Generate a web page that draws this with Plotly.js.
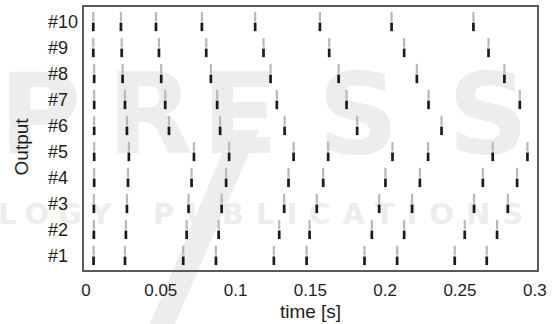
<!DOCTYPE html>
<html>
<head>
<meta charset="utf-8">
<script src="https://cdn.plot.ly/plotly-3.0.1.min.js"></script>
<style>html,body{margin:0;padding:0;background:#fff;}#chart{width:555px;height:324px;}</style>
</head>
<body>
<div id="chart"></div>
<script>
// Spike times (s) for each output
const out1 = [0.0051, 0.0261, 0.0650, 0.0869, 0.1256, 0.1475, 0.1862, 0.2080, 0.2465, 0.2679];
const out2 = [0.0053, 0.0267, 0.0673, 0.0887, 0.1292, 0.1495, 0.1911, 0.2127, 0.2532, 0.2748];
const out3 = [0.0053, 0.0274, 0.0686, 0.0907, 0.1325, 0.1543, 0.1960, 0.2180, 0.2594, 0.2820];
const out4 = [0.0055, 0.0281, 0.0706, 0.0937, 0.1354, 0.1586, 0.2002, 0.2232, 0.2653, 0.2882];
const out5 = [0.0055, 0.0287, 0.0722, 0.0957, 0.1388, 0.1619, 0.2049, 0.2287, 0.2719, 0.2951];
const out6 = [0.0055, 0.0274, 0.0555, 0.0897, 0.1328, 0.1813, 0.2377];
const out7 = [0.0055, 0.0261, 0.0530, 0.0877, 0.1276, 0.1742, 0.2290, 0.2900];
const out8 = [0.0055, 0.0245, 0.0503, 0.0835, 0.1234, 0.1689, 0.2212, 0.2797];
const out9 = [0.0049, 0.0239, 0.0488, 0.0804, 0.1187, 0.1626, 0.2127, 0.2691];
const out10 = [0.0049, 0.0234, 0.0468, 0.0775, 0.1131, 0.1564, 0.2043, 0.2590];

const outputs = [out1, out2, out3, out4, out5, out6, out7, out8, out9, out10];
const rowLabels = ['#1', '#2', '#3', '#4', '#5', '#6', '#7', '#8', '#9', '#10'];
const xTickVals = [0, 0.05, 0.1, 0.15, 0.2, 0.25, 0.3];
const xTickText = ['0', '0.05', '0.1', '0.15', '0.2', '0.25', '0.3'];

// Build spike segments: light upper part, dark lower part
const gx = [], gy = [], bx = [], by = [];
outputs.forEach((times, i) => {
  const r = i + 1;
  times.forEach(t => {
    gx.push(t, t, null); gy.push(r + 0.02, r + 0.39, null);
    bx.push(t, t, null); by.push(r - 0.35, r - 0.02, null);
  });
});

const traces = [
  {x: gx, y: gy, type: 'scatter', mode: 'lines', line: {color: '#b8b8b8', width: 2.2}, hoverinfo: 'skip', showlegend: false},
  {x: bx, y: by, type: 'scatter', mode: 'lines', line: {color: '#1a1a1a', width: 2.7}, hoverinfo: 'skip', showlegend: false}
];

const FONT = 'Liberation Sans, Arial, sans-serif';
const TXT = '#1e1e1e';
const annotations = rowLabels.map((lab, i) => ({
  text: lab, xref: 'paper', yref: 'y', x: -0.0845, y: i + 1,
  xanchor: 'left', yanchor: 'middle', showarrow: false,
  font: {family: FONT, size: 18, color: TXT}
}));
annotations.push({
  text: 'Output', xref: 'paper', yref: 'paper', x: -0.139, y: 0.47,
  xanchor: 'center', yanchor: 'middle', textangle: -90, showarrow: false,
  font: {family: FONT, size: 19, color: TXT}
});

// Background watermark (light grey), drawn below the data as shape labels
const wmColor = '#ededed';
const px = v => (v - 84) / 453;
const py = v => (270 - v) / 263;
const shapes = [
  {type: 'path', xref: 'paper', yref: 'paper', layer: 'below',
   path: 'M ' + px(232) + ' ' + py(130) + ' L ' + px(259) + ' ' + py(130) + ' L ' + px(175) + ' ' + py(324) + ' L ' + px(150) + ' ' + py(324) + ' Z',
   fillcolor: wmColor, line: {width: 0}}
];
const wmLetters = ['P', 'R', 'E', 'S', 'S'];
const wmCenters = [40, 150, 240, 358, 488];
wmLetters.forEach((ch, i) => {
  shapes.push({
    type: 'rect', xref: 'paper', yref: 'paper', layer: 'below',
    x0: px(wmCenters[i] - 55), x1: px(wmCenters[i] + 55), y0: py(150), y1: py(62),
    line: {width: 0}, fillcolor: 'rgba(0,0,0,0)',
    label: {text: ch, textposition: 'middle center', padding: 0,
            font: {family: 'DejaVu Sans', size: 112, color: wmColor, weight: 'bold'}}
  });
});
shapes.push({
  type: 'rect', xref: 'paper', yref: 'paper', layer: 'below',
  x0: px(-5), x1: px(140), y0: py(224), y1: py(200),
  line: {width: 0}, fillcolor: 'rgba(0,0,0,0)',
  label: {text: '<span style="letter-spacing:9px">LOGY</span>', textposition: 'middle left', padding: 0,
          font: {family: 'DejaVu Sans', size: 29, color: wmColor, weight: 'bold'}}
});
shapes.push({
  type: 'rect', xref: 'paper', yref: 'paper', layer: 'below',
  x0: px(150), x1: px(560), y0: py(224), y1: py(200),
  line: {width: 0}, fillcolor: 'rgba(0,0,0,0)',
  label: {text: '<span style="letter-spacing:12px">PUBLICATIONS</span>', textposition: 'middle left', padding: 0,
          font: {family: 'DejaVu Sans', size: 29, color: wmColor, weight: 'bold'}}
});

const layout = {
  width: 555, height: 324,
  margin: {l: 84, r: 18, t: 7, b: 54},
  paper_bgcolor: '#ffffff', plot_bgcolor: 'rgba(0,0,0,0)',
  font: {family: FONT, size: 17, color: TXT},
  xaxis: {
    range: [-0.0013, 0.3015], tickvals: xTickVals, ticktext: xTickText,
    showgrid: false, zeroline: false, ticks: '', showline: true, mirror: true,
    linecolor: '#5a5a5a', linewidth: 2, ticklabelstandoff: 4,
    tickfont: {family: FONT, size: 17, color: TXT},
    title: {text: 'time [s]', font: {family: FONT, size: 19, color: TXT}, standoff: 5}
  },
  yaxis: {
    range: [0.46, 10.58], showticklabels: false, showgrid: false, zeroline: false,
    ticks: '', showline: true, mirror: true, linecolor: '#5a5a5a', linewidth: 2
  },
  shapes: shapes,
  annotations: annotations
};

Plotly.newPlot('chart', traces, layout, {staticPlot: true, displayModeBar: false});
</script>
</body>
</html>
